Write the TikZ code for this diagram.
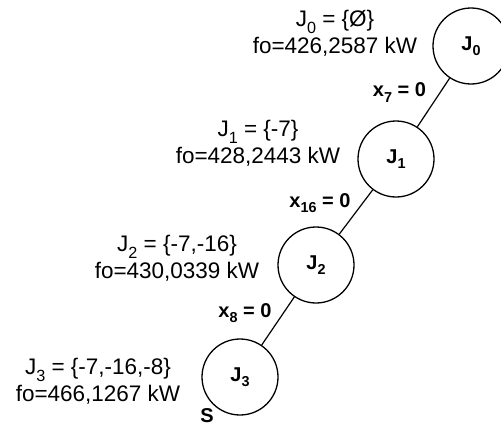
\documentclass[tikz,border=0pt]{standalone}
\usepackage{fontspec}
\setmainfont{Liberation Sans}
\newcommand\lsub[1]{\raisebox{-0.28em}{\scalebox{0.72}{#1}}}
\begin{document}
\begin{tikzpicture}[x=1pt,y=-1pt,
  state/.style={circle,draw,line width=1.3pt,minimum size=76pt,inner sep=0pt,font=\fontsize{20}{24}\selectfont\bfseries},
  info/.style={align=center,font=\fontsize{22.5}{27}\selectfont,inner sep=0pt},
  elabel/.style={font=\fontsize{20}{24}\selectfont\bfseries,inner sep=0pt},
  edge/.style={line width=1.2pt}]
\useasboundingbox (0,0) rectangle (501,423);
\node[state] (J0) at (471,46) {J\lsub{0}};
\node[state] (J1) at (396,159) {J\lsub{1}};
\node[state] (J2) at (316,265) {J\lsub{2}};
\node[state] (J3) at (240,377) {J\lsub{3}};
\draw[edge] (J0) -- node[elabel,xshift=-34pt,yshift=10pt]{x\lsub{7} = 0} (J1);
\draw[edge] (J1) -- node[elabel,xshift=-36pt,yshift=9pt]{x\lsub{16} = 0} (J2);
\draw[edge] (J2) -- node[elabel,xshift=-33pt,yshift=8pt]{x\lsub{8} = 0} (J3);
\node[info] (L0) at (335,33.5) {J\lsub{0} = \{Ø\}\\fo=426,2587 kW};
\node[info] (L1) at (258,143.5) {J\lsub{1} = \{-7\}\\fo=428,2443 kW};
\node[info] (L2) at (177,258.5) {J\lsub{2} = \{-7,-16\}\\fo=430,0339 kW};
\node[info] (L3) at (98,381.5) {J\lsub{3} = \{-7,-16,-8\}\\fo=466,1267 kW};
\node[anchor=base,font=\fontsize{20}{24}\selectfont\bfseries,inner sep=0pt] (S) at (207,422) {S};
\end{tikzpicture}
\end{document}
